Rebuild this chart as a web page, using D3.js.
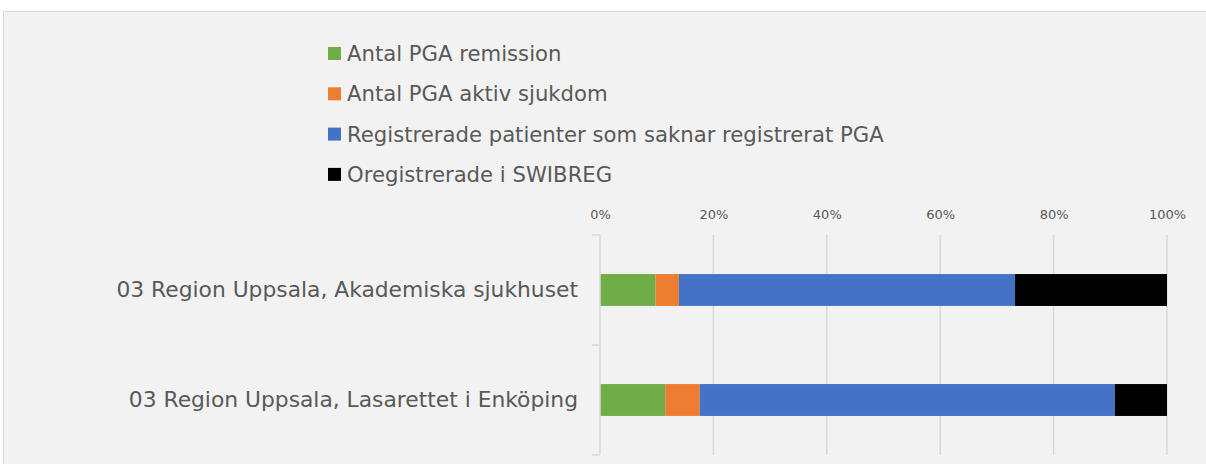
<!DOCTYPE html>
<html>
<head>
<meta charset="utf-8">
<script src="https://cdn.jsdelivr.net/npm/d3@7"></script>
<style>
  html, body { margin: 0; padding: 0; background: #ffffff; }
  svg { display: block; }
</style>
</head>
<body>
<svg id="chart" width="1206" height="464"></svg>
<script>
// ---- data (percent of patients) ----
const categories = [
  "03 Region Uppsala, Akademiska sjukhuset",
  "03 Region Uppsala, Lasarettet i Enköping"
];
const seriesNames = [
  "Antal PGA remission",
  "Antal PGA aktiv sjukdom",
  "Registrerade patienter som saknar registrerat PGA",
  "Oregistrerade i SWIBREG"
];
const seriesColors = ["#70ad47", "#ed7d31", "#4472c4", "#000000"];
const remission   = [9.8, 11.5];
const aktiv       = [4.1, 6.1];
const saknarPGA   = [59.3, 73.2];
const oregistrerade = [26.8, 9.2];
const tickValues = [0, 0.2, 0.4, 0.6, 0.8, 1.0];

const seriesValues = [remission, aktiv, saknarPGA, oregistrerade];

const svg = d3.select("#chart");
const FONT = "'DejaVu Sans', sans-serif";
const TXT = "#595959";

// chart area background
svg.append("rect")
  .attr("x", 3.5).attr("y", 11.5)
  .attr("width", 1220).attr("height", 470)
  .attr("fill", "#f2f2f2")
  .attr("stroke", "#d9d9d9").attr("stroke-width", 1);

const x = d3.scaleLinear().domain([0, 1]).range([600, 1167]);
const y = d3.scaleBand().domain(categories).range([235, 455]).paddingInner(0.71).paddingOuter(0.355);

// stacked data
const rows = categories.map((c, i) => {
  const o = { cat: c };
  const total = seriesValues.reduce((s, arr) => s + arr[i], 0);
  seriesNames.forEach((n, k) => { o[n] = seriesValues[k][i] / total; });
  return o;
});
const stacked = d3.stack().keys(seriesNames)(rows);

// gridlines
svg.append("g").selectAll("line")
  .data(tickValues.slice(1))
  .join("line")
  .attr("x1", d => x(d)).attr("x2", d => x(d))
  .attr("y1", 235).attr("y2", 455)
  .attr("stroke", "#d9d9d9").attr("stroke-width", 1.5);

// top axis labels
const xAxis = d3.axisTop(x).tickValues(tickValues).tickFormat(d3.format(".0%")).tickSize(0);
const gx = svg.append("g").attr("transform", "translate(0,222)").call(xAxis);
gx.select(".domain").remove();
gx.selectAll("text")
  .attr("fill", TXT).style("font-family", FONT).style("font-size", "13px")
  .attr("dy", "0");

// bars
svg.append("g").selectAll("g")
  .data(stacked)
  .join("g")
  .attr("fill", (d, i) => seriesColors[i])
  .selectAll("rect")
  .data(d => d)
  .join("rect")
  .attr("x", d => x(d[0]))
  .attr("width", d => x(d[1]) - x(d[0]))
  .attr("y", d => y(d.data.cat))
  .attr("height", y.bandwidth());

// category axis (left)
const yAxis = d3.axisLeft(y).tickSize(0).tickPadding(22);
const gy = svg.append("g").attr("transform", "translate(600,0)").call(yAxis);
gy.select(".domain").remove();
gy.selectAll("text")
  .attr("fill", TXT).style("font-family", FONT).style("font-size", "21.8px")
  .attr("dy", "0.3em");

// axis line & separator ticks
svg.append("line")
  .attr("x1", 600).attr("x2", 600).attr("y1", 235).attr("y2", 455)
  .attr("stroke", "#d9d9d9").attr("stroke-width", 1.5);
svg.append("g").selectAll("line")
  .data(categories.map((c, i) => i).concat([categories.length]))
  .join("line")
  .attr("x1", 592).attr("x2", 600)
  .attr("y1", i => y.range()[0] + i * y.step())
  .attr("y2", i => y.range()[0] + i * y.step())
  .attr("stroke", "#d9d9d9").attr("stroke-width", 1.5);

// legend
const legend = svg.append("g").attr("transform", "translate(328,47)");
const li = legend.selectAll("g").data(seriesNames).join("g")
  .attr("transform", (d, i) => `translate(0,${i * 40.3})`);
li.append("rect").attr("width", 13).attr("height", 13)
  .attr("fill", (d, i) => seriesColors[i]);
li.append("text")
  .attr("x", 19).attr("y", 6.5).attr("dy", "0.35em")
  .attr("fill", TXT).style("font-family", FONT).style("font-size", "21.2px")
  .text(d => d);
</script>
</body>
</html>
